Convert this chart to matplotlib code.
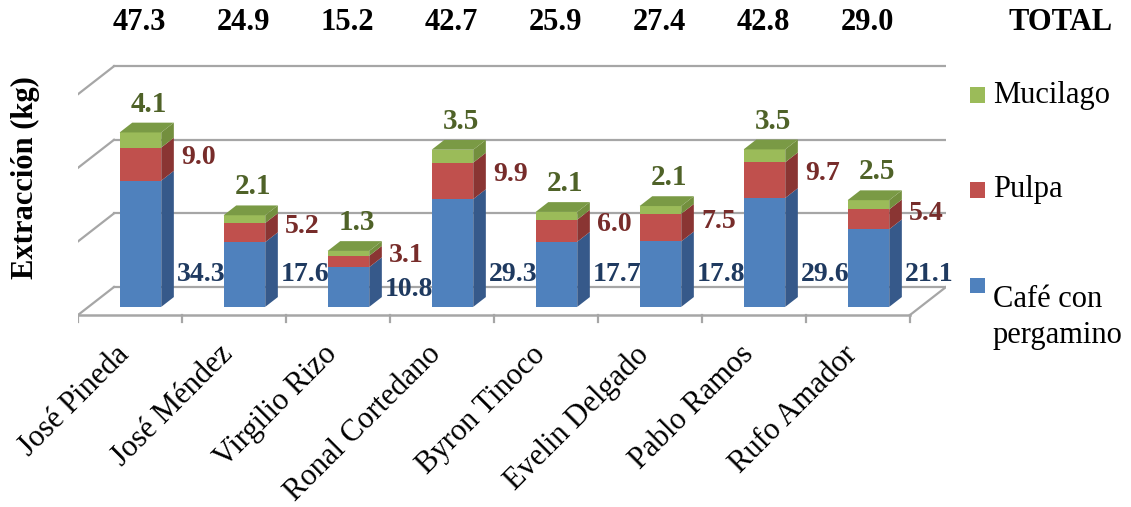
import numpy as np
import matplotlib
matplotlib.use("Agg")
import matplotlib.pyplot as plt
from matplotlib.patches import Polygon, Rectangle

# ---------------- data ----------------
productores = ["José Pineda", "José Méndez", "Virgilio Rizo", "Ronal Cortedano",
               "Byron Tinoco", "Evelin Delgado", "Pablo Ramos", "Rufo Amador"]
cafe = [34.3, 17.6, 10.8, 29.3, 17.7, 17.8, 29.6, 21.1]
pulpa = [9.0, 5.2, 3.1, 9.9, 6.0, 7.5, 9.7, 5.4]
mucilago = [4.1, 2.1, 1.3, 3.5, 2.1, 2.1, 3.5, 2.5]
totales = [47.3, 24.9, 15.2, 42.7, 25.9, 27.4, 42.8, 29.0]
series_names = ["Café con\npergamino", "Pulpa", "Mucilago"]
y_ticks = [0, 20, 40, 60]

# ---------------- style ----------------
plt.rcParams['font.family'] = ['Liberation Serif', 'DejaVu Serif']
W, H = 1131, 507
fig = plt.figure(figsize=(W / 100, H / 100), dpi=100)

# geometry of the pseudo-3D box (in axis units)
PX_PER_CAT = 104.0
PX_PER_VAL = 3.68
DX = 36 / PX_PER_CAT      # depth offset in category units
DY = 28 / PX_PER_VAL      # depth offset in value units
F0, F1 = 0.29, 0.64       # bar front / back depth fraction
BAR_W = 0.40
n = len(productores)

# axes placement (pixels)
left_px, right_px = 78, 78 + (n + DX) * PX_PER_CAT
floor_px = 315
top_px, bot_px = 40, 335
ax = fig.add_axes([left_px / W, 1 - bot_px / H, (right_px - left_px) / W, (bot_px - top_px) / H])
ax.set_xlim(-0.5, n - 0.5 + DX)
ax.set_ylim(-(bot_px - floor_px) / PX_PER_VAL, (floor_px - top_px) / PX_PER_VAL)
ax.axis("off")

grid_c = "#A6A6A6"
x0, x1 = -0.5, n - 0.5
# back wall gridlines and left wall diagonals
for v in y_ticks:
    ax.plot([x0 + DX, x1 + DX], [v + DY, v + DY], color=grid_c, lw=1.6, zorder=1)
    ax.plot([x0, x0 + DX], [v, v + DY], color=grid_c, lw=1.6, zorder=1)
# floor
ax.plot([x0, x1], [0, 0], color=grid_c, lw=1.8, zorder=1)
ax.plot([x1, x1 + DX], [0, DY], color=grid_c, lw=1.6, zorder=1)
tick_len = 7 / PX_PER_VAL
for b in np.arange(x0, x1 + 0.01, 1.0):
    ax.plot([b, b], [0, -tick_len], color=grid_c, lw=1.6, zorder=1)

# ---------------- bars ----------------
front_c = ["#4F81BD", "#C0504D", "#9BBB59"]
side_c = ["#36598A", "#8A3533", "#738F3E"]
top_c = ["#6A94C8", "#CD6A67", "#7A9A45"]
stack = [np.array(cafe), np.array(pulpa), np.array(mucilago)]
x = np.arange(n)
xf = x + F0 * DX
ddx, ddy = (F1 - F0) * DX, (F1 - F0) * DY
bottom = np.zeros(n)
for k, vals in enumerate(stack):
    ax.bar(xf, vals, width=BAR_W, bottom=bottom + F0 * DY, color=front_c[k],
           edgecolor="none", zorder=3)
    for i in range(n):
        xr = xf[i] + BAR_W / 2
        b0 = bottom[i] + F0 * DY
        b1 = b0 + vals[i]
        ax.add_patch(Polygon([[xr, b0], [xr + ddx, b0 + ddy], [xr + ddx, b1 + ddy], [xr, b1]],
                             closed=True, facecolor=side_c[k], edgecolor="none", zorder=3))
        if k == len(stack) - 1:
            xl = xf[i] - BAR_W / 2
            ax.add_patch(Polygon([[xl, b1], [xr, b1], [xr + ddx, b1 + ddy], [xl + ddx, b1 + ddy]],
                                 closed=True, facecolor=top_c[k], edgecolor="none", zorder=3))
    bottom = bottom + vals

# ---------------- labels ----------------
lab_c = ["#1F3A60", "#772C2A", "#4F6228"]
lab_fs = 20
for i in range(n):
    ax.text(x[i] + 0.68, min(cafe[i] * 0.63, 11.0), f"{cafe[i]:.1f}", ha="center", va="center",
            fontsize=lab_fs, fontweight="bold", color=lab_c[0], zorder=5)
    ax.text(x[i] + 0.66, cafe[i] + pulpa[i] / 2 + 3.9, f"{pulpa[i]:.1f}", ha="center", va="center",
            fontsize=lab_fs, fontweight="bold", color=lab_c[1], zorder=5)
    ax.text(x[i] + 0.18, totales[i] + F1 * DY + 3.0, f"{mucilago[i]:.1f}", ha="center", va="baseline",
            fontsize=lab_fs + 1, fontweight="bold", color=lab_c[2], zorder=5)
    # totals row
    ax.text(x[i] + 0.09, (floor_px - 22) / PX_PER_VAL, f"{totales[i]:.1f}", ha="center", va="center",
            fontsize=22, fontweight="bold", color="black")
    # category labels
    ax.text(x[i] + 0.05, -(340 - floor_px) / PX_PER_VAL, productores[i], rotation=45,
            ha="right", va="top", fontsize=22, color="black")

ax.text(x0 + (1061 - left_px) / PX_PER_CAT, (floor_px - 22) / PX_PER_VAL, "TOTAL", ha="center",
        va="center", fontsize=22, fontweight="bold", color="black")

# y label
fig.text(25 / W, 1 - 178 / H, "Extracción (kg)", rotation=90, ha="center", va="center",
         fontsize=22, fontweight="bold", color="black")

# ---------------- legend ----------------
leg_y = [285, 190, 95]
for k in range(3):
    fig.patches.append(Rectangle((970 / W, 1 - (leg_y[k] + 7.5) / H), 15 / W, 15 / H,
                                 transform=fig.transFigure, facecolor=front_c[k],
                                 edgecolor="none"))
    fig.text(993 / W, 1 - (leg_y[k]) / H, series_names[k], ha="left", va="top" if k == 0 else "center",
             fontsize=22, color="black", linespacing=1.3)

fig.savefig("out.png", dpi=100)
